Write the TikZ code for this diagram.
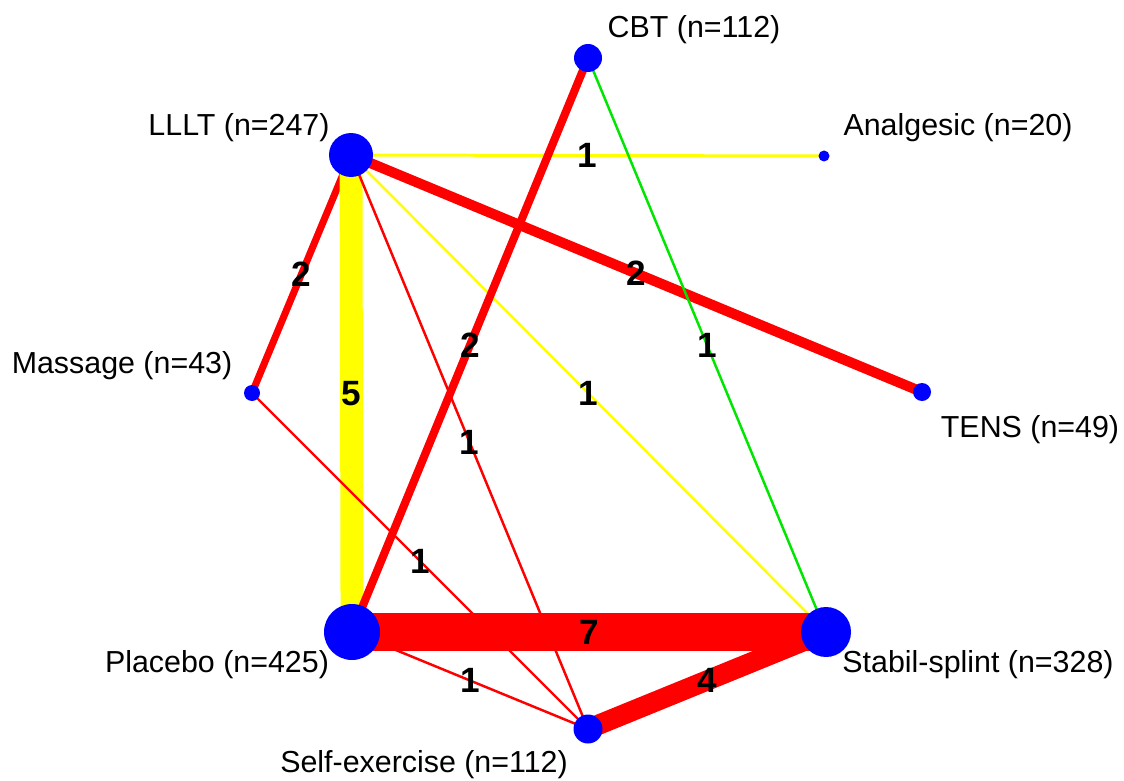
\documentclass[tikz,border=0pt]{standalone}
\usepackage{fontspec}
\setmainfont{Liberation Sans}
\usetikzlibrary{backgrounds}
\definecolor{netred}{RGB}{255,0,0}
\definecolor{netyellow}{RGB}{255,255,0}
\definecolor{netgreen}{RGB}{0,230,0}
\definecolor{netblue}{RGB}{0,0,255}

\begin{document}
\begin{tikzpicture}[x=0.02cm, y=-0.02cm,
    trt/.style={circle, fill=netblue, inner sep=0pt},
    lab/.style={inner sep=0pt, font=\fontsize{17.3}{20}\selectfont},
    num/.style={inner sep=0pt, font=\fontsize{20}{22}\selectfont\bfseries}]
  \useasboundingbox (0,0) rectangle (1124,780);

  % Treatments
  \node[trt, minimum size=0.56cm] (cbt) at (588,58) {};
  \node[trt, minimum size=0.22cm] (analg) at (824,156) {};
  \node[trt, minimum size=0.88cm] (lllt) at (351,155) {};
  \node[trt, minimum size=0.32cm] (mass) at (252,393) {};
  \node[trt, minimum size=0.36cm] (tens) at (922,392) {};
  \node[trt, minimum size=1.12cm] (plac) at (352,632) {};
  \node[trt, minimum size=1.0cm] (stab) at (826,632) {};
  \node[trt, minimum size=0.58cm] (self) at (588,729) {};

  % Names
  \node[lab] (cbt-lab) at (694,30) {CBT (n=112)};
  \node[lab] (analg-lab) at (958,128) {Analgesic (n=20)};
  \node[lab] (lllt-lab) at (239,128) {LLLT (n=247)};
  \node[lab] (mass-lab) at (122,366) {Massage (n=43)};
  \node[lab] (tens-lab) at (1030,430) {TENS (n=49)};
  \node[lab] (plac-lab) at (217,665) {Placebo (n=425)};
  \node[lab] (stab-lab) at (978,665) {Stabil-splint (n=328)};
  \node[lab] (self-lab) at (424,765) {Self-exercise (n=112)};

  % Comparisons
  \begin{pgfonlayer}{background}
    \draw[netyellow, line width=1.7pt] (lllt.center) -- (analg.center) node[num, black, midway] (n1) {1};
    \draw[netred, line width=5.8pt] (lllt.center) -- (tens.center) node[num, black, midway] (n2) {2};
    \draw[netred, line width=4pt] (lllt.center) -- (mass.center) node[num, black, midway] (n3) {2};
    \draw[netyellow, line width=13pt] (lllt.center) -- (plac.center) node[num, black, midway] (n4) {5};
    \draw[netred, line width=1.4pt] (lllt.center) -- (self.center) node[num, black, midway] (n5) {1};
    \draw[netyellow, line width=1.4pt] (lllt.center) -- (stab.center) node[num, black, midway] (n6) {1};
    \draw[netred, line width=4.6pt] (cbt.center) -- (plac.center) node[num, black, midway] (n7) {2};
    \draw[netgreen, line width=1.4pt] (cbt.center) -- (stab.center) node[num, black, midway] (n8) {1};
    \draw[netred, line width=1.4pt] (mass.center) -- (self.center) node[num, black, midway] (n9) {1};
    \draw[netred, line width=21.5pt] (plac.center) -- (stab.center) node[num, black, midway] (n10) {7};
    \draw[netred, line width=1.4pt] (plac.center) -- (self.center) node[num, black, midway] (n11) {1};
    \draw[netred, line width=11.5pt] (stab.center) -- (self.center) node[num, black, midway] (n12) {4};
  \end{pgfonlayer}
\end{tikzpicture}
\end{document}
